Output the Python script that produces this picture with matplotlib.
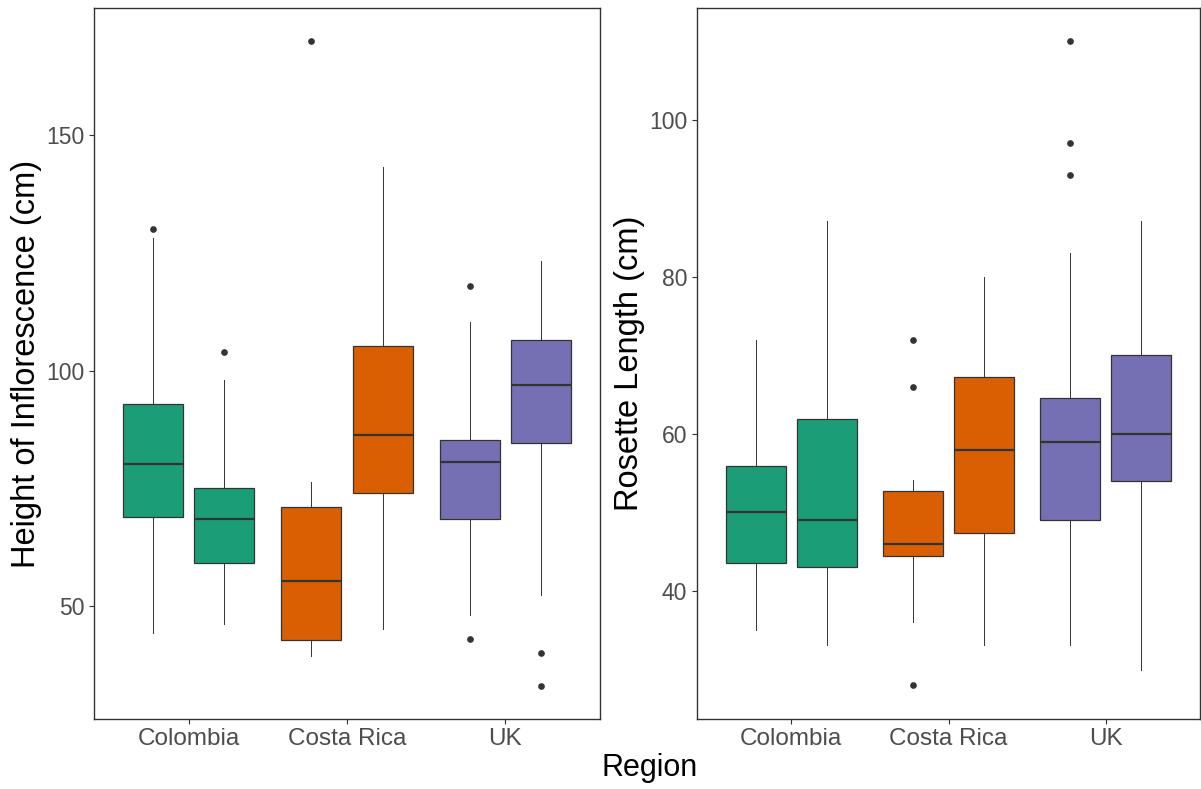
import numpy as np
import matplotlib
matplotlib.use("Agg")
import matplotlib.pyplot as plt

plt.rcParams['font.family'] = ['Liberation Sans', 'DejaVu Sans']

# Data (two boxes per region)
regions = ['Colombia', 'Costa Rica', 'UK']
region_colors = ['#1B9E77', '#D95F02', '#7570B3']

# Height of inflorescence (cm)
height_whislo = [44.3, 46.2, 39.4, 45.2, 48.1, 52.3]
height_q1 = [69.0, 59.1, 42.8, 74.0, 68.6, 84.7]
height_med = [80.2, 68.5, 55.3, 86.3, 80.6, 97.0]
height_q3 = [93.0, 75.2, 71.0, 105.3, 85.2, 106.4]
height_whishi = [128.2, 98.0, 76.3, 143.1, 110.3, 123.2]
height_fliers = [[130], [104], [170], [], [118, 43], [40, 33]]

# Rosette length (cm)
rosette_whislo = [35.0, 33.1, 36.0, 33.1, 33.1, 29.9]
rosette_q1 = [43.6, 43.1, 44.4, 47.4, 49.0, 54.0]
rosette_med = [50.0, 49.0, 46.0, 58.0, 59.0, 60.0]
rosette_q3 = [55.9, 61.9, 52.7, 67.2, 64.5, 70.0]
rosette_whishi = [72.0, 87.1, 54.1, 80.0, 83.0, 87.1]
rosette_fliers = [[], [], [72, 66, 28], [], [110, 97, 93], []]

dark = '#333333'
tick_grey = '#4D4D4D'


def make_stats(whislo, q1, med, q3, whishi, fliers):
    return [dict(whislo=a, q1=b, med=c, q3=d, whishi=e, fliers=f)
            for a, b, c, d, e, f in zip(whislo, q1, med, q3, whishi, fliers)]


def draw_panel(ax, stats, ylim, yticks, ylabel):
    positions = []
    colors = []
    for i in range(len(regions)):
        positions += [i + 1 - 0.225, i + 1 + 0.225]
        colors += [region_colors[i]] * 2
    bp = ax.bxp(stats, positions=positions, widths=0.38, patch_artist=True,
                showcaps=False,
                boxprops=dict(edgecolor=dark, linewidth=0.9),
                medianprops=dict(color=dark, linewidth=1.6),
                whiskerprops=dict(color=dark, linewidth=0.7),
                flierprops=dict(marker='o', markersize=3.8, markerfacecolor=dark,
                                markeredgecolor=dark, linestyle='none'))
    for patch, c in zip(bp['boxes'], colors):
        patch.set_facecolor(c)
    ax.set_xlim(0.4, 3.6)
    ax.set_ylim(*ylim)
    ax.set_xticks(range(1, len(regions) + 1))
    ax.set_xticklabels(regions)
    ax.set_yticks(yticks)
    ax.tick_params(axis='both', colors=dark, labelcolor=tick_grey,
                   labelsize=16.5, length=3.5, width=0.8)
    ax.tick_params(axis='x', pad=3, labelsize=17.5)
    for s in ax.spines.values():
        s.set_color(dark)
        s.set_linewidth(1.0)
    ax.set_ylabel(ylabel, fontsize=23.5, color='black', labelpad=3)


fig = plt.figure(figsize=(12.01, 7.89), dpi=100)
ax1 = fig.add_axes([94 / 1201, 1 - 719 / 789, 506 / 1201, 711 / 789])
ax2 = fig.add_axes([697 / 1201, 1 - 719 / 789, 503 / 1201, 711 / 789])

draw_panel(ax1, make_stats(height_whislo, height_q1, height_med, height_q3,
                           height_whishi, height_fliers),
           (26.1, 176.9), [50, 100, 150], 'Height of Inflorescence (cm)')
draw_panel(ax2, make_stats(rosette_whislo, rosette_q1, rosette_med, rosette_q3,
                           rosette_whishi, rosette_fliers),
           (23.7, 114.2), [40, 60, 80, 100], 'Rosette Length (cm)')

fig.text(650 / 1201, 1 - 768 / 789, 'Region', ha='center', va='center',
         fontsize=22, color='black')

fig.savefig('out.png', dpi=100)
